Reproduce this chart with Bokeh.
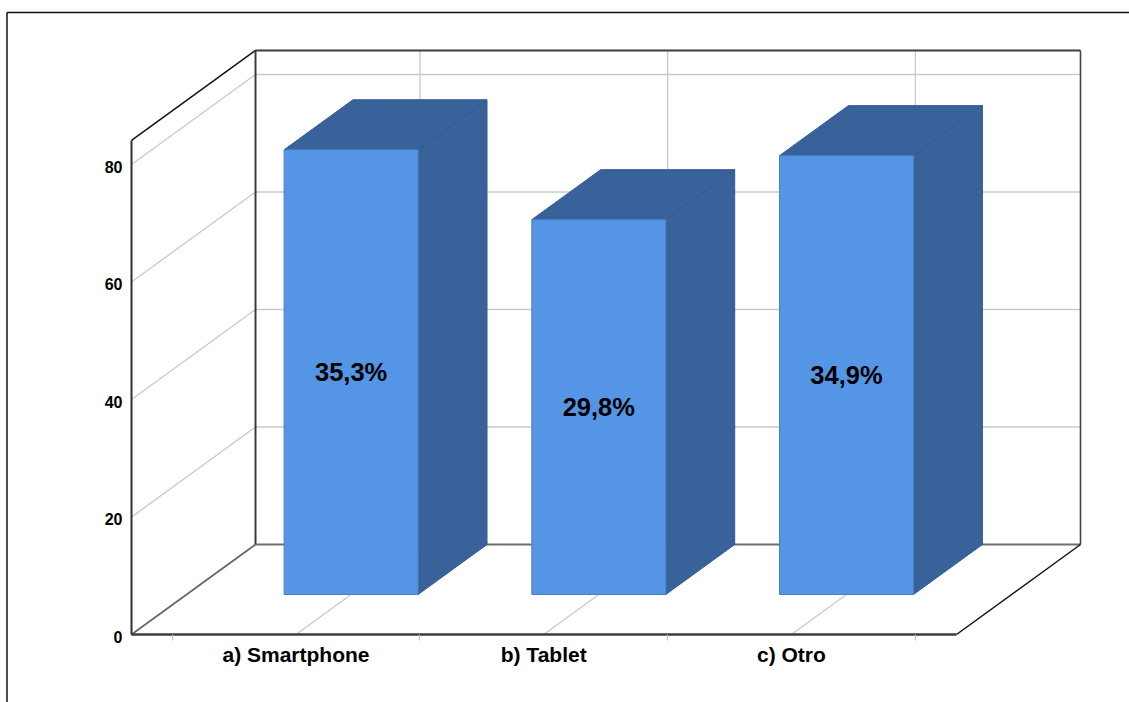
from bokeh.plotting import figure
from bokeh.embed import file_html
from bokeh.resources import INLINE
from bokeh.models import LinearAxis, FixedTicker, Range1d
from bokeh.core.properties import value

categories = ["a) Smartphone", "b) Tablet", "c) Otro"]
counts = [75.7, 63.8, 74.7]
percent_labels = ["35,3%", "29,8%", "34,9%"]
y_ticks = [0, 20, 40, 60, 80]
y_top = 84.1

# oblique projection of the chart box
PX_CAT, PX_VAL = 247.7, 5.875
CX = 295.5
DX, DY = 124 / PX_CAT, 90 / PX_VAL   # shift at the back wall
X0, X1 = (131 - CX) / PX_CAT, (956 - CX) / PX_CAT
BAR_HALF = 67 / PX_CAT
D_FRONT, D_BACK = 40 / 90, 1.0

def proj(x, v, d=0.0):
    return x + d * DX, v + d * DY

W, H = 1129, 702
y_start, y_end = -(H - 634) / PX_VAL, 634 / PX_VAL
p = figure(width=W, height=H, output_backend="svg", toolbar_location=None,
           x_axis_location=None, y_axis_location=None, min_border=0,
           x_range=Range1d(-CX / PX_CAT, (W - CX) / PX_CAT),
           y_range=Range1d(y_start, y_end),
           outline_line_color=None)
p.grid.visible = False
# tick labels sit slightly below their grid lines in the original
p.extra_y_ranges["labels"] = Range1d(y_start + 2 / PX_VAL, y_end + 2 / PX_VAL)

GRID = "#c9c9c9"
DARK = "#3c3c3c"
BLACK = "#111111"

# outer picture frame
ya = (634 - 12) / PX_VAL
xl = (6.5 - CX) / PX_CAT
p.line([xl, xl], [y_start, ya], line_color=BLACK, line_width=1.5)
p.line([xl, (W - CX) / PX_CAT], [ya, ya], line_color=BLACK, line_width=1.5)

# grid lines
for t in y_ticks[1:]:
    a = proj(X0, t); b = proj(X0, t, 1); c = proj(X1, t, 1)
    p.line([a[0], b[0], c[0]], [a[1], b[1], c[1]], line_color=GRID, line_width=1.3)
for i in range(len(categories)):
    a = proj(i, 0); b = proj(i, 0, 1); c = proj(i, y_top, 1)
    p.line([a[0], b[0], c[0]], [a[1], b[1], c[1]], line_color=GRID, line_width=1.3)

# box edges
def edge(pts, color, w):
    xs, ys = zip(*pts)
    p.line(list(xs), list(ys), line_color=color, line_width=w)

edge([proj(X0, 0), proj(X0, 0, 1)], "#666666", 1.8)
edge([proj(X0, y_top), proj(X0, y_top, 1)], BLACK, 1.5)
edge([proj(X0, 0, 1), proj(X0, y_top, 1), proj(X1, y_top, 1)], DARK, 2)
edge([proj(X0, 0, 1), proj(X1, 0, 1)], "#6e6e6e", 2)
edge([proj(X1, 0), proj(X1, 0, 1)], BLACK, 1.5)
edge([proj(X1, 0, 1), proj(X1, y_top, 1)], "#444444", 1.6)

# bars
FRONT, SIDE = "#5595e5", "#386299"
fx, fy, sx, sy, tx, ty = [], [], [], [], [], []
for i, c in enumerate(counts):
    l, r = i - BAR_HALF, i + BAR_HALF
    f = [proj(l, 0, D_FRONT), proj(r, 0, D_FRONT), proj(r, c, D_FRONT), proj(l, c, D_FRONT)]
    s = [proj(r, 0, D_FRONT), proj(r, 0, D_BACK), proj(r, c, D_BACK), proj(r, c, D_FRONT)]
    t = [proj(l, c, D_FRONT), proj(r, c, D_FRONT), proj(r, c, D_BACK), proj(l, c, D_BACK)]
    for pts, X, Y in ((f, fx, fy), (s, sx, sy), (t, tx, ty)):
        X.append([q[0] for q in pts]); Y.append([q[1] for q in pts])
p.patches(sx, sy, fill_color=SIDE, line_color="#2f5a92", line_width=1)
p.patches(tx, ty, fill_color=SIDE, line_color="#2f5a92", line_width=1)
p.patches(fx, fy, fill_color=FRONT, line_color="#4c7fbd", line_width=1)

lx = [proj(i, c / 2, D_FRONT)[0] for i, c in enumerate(counts)]
ly = [proj(i, c / 2, D_FRONT)[1] for i, c in enumerate(counts)]
p.text(lx, ly, text=percent_labels, text_align="center", text_baseline="middle",
       text_font=value("Liberation Sans"), text_font_style="bold",
       text_font_size="25.5px", text_color="#000000")

# axes
yax = LinearAxis(y_range_name="labels", ticker=FixedTicker(ticks=y_ticks), fixed_location=X0,
                 axis_line_color=None,
                 major_tick_line_color=None, minor_tick_line_color=None,
                 major_label_text_font="Liberation Sans",
                 major_label_text_font_style="bold",
                 major_label_text_font_size="16px", major_label_text_color="#000000",
                 major_label_standoff=3)
p.add_layout(yax, "left")

xax = LinearAxis(ticker=FixedTicker(ticks=list(range(len(categories))),
                                    minor_ticks=[i - 0.5 for i in range(len(categories) + 1)]),
                 fixed_location=0, bounds=(X0, X1),
                 major_label_overrides={i: c for i, c in enumerate(categories)},
                 axis_line_color=DARK, axis_line_width=2.5,
                 major_tick_line_color=None,
                 minor_tick_line_color="#bbbbbb", minor_tick_out=6, minor_tick_in=0,
                 major_label_text_font="Liberation Sans",
                 major_label_text_font_style="bold",
                 major_label_text_font_size="21px", major_label_text_color="#000000",
                 major_label_standoff=2)
p.add_layout(xax, "below")

# front edge of the left wall, drawn last, as a polyline of the tick positions
fy_edge = y_ticks + [y_top]
p.line([X0] * len(fy_edge), fy_edge, line_color="#2e2e2e", line_width=2)

open("out.html", "w").write(file_html(p, INLINE))
